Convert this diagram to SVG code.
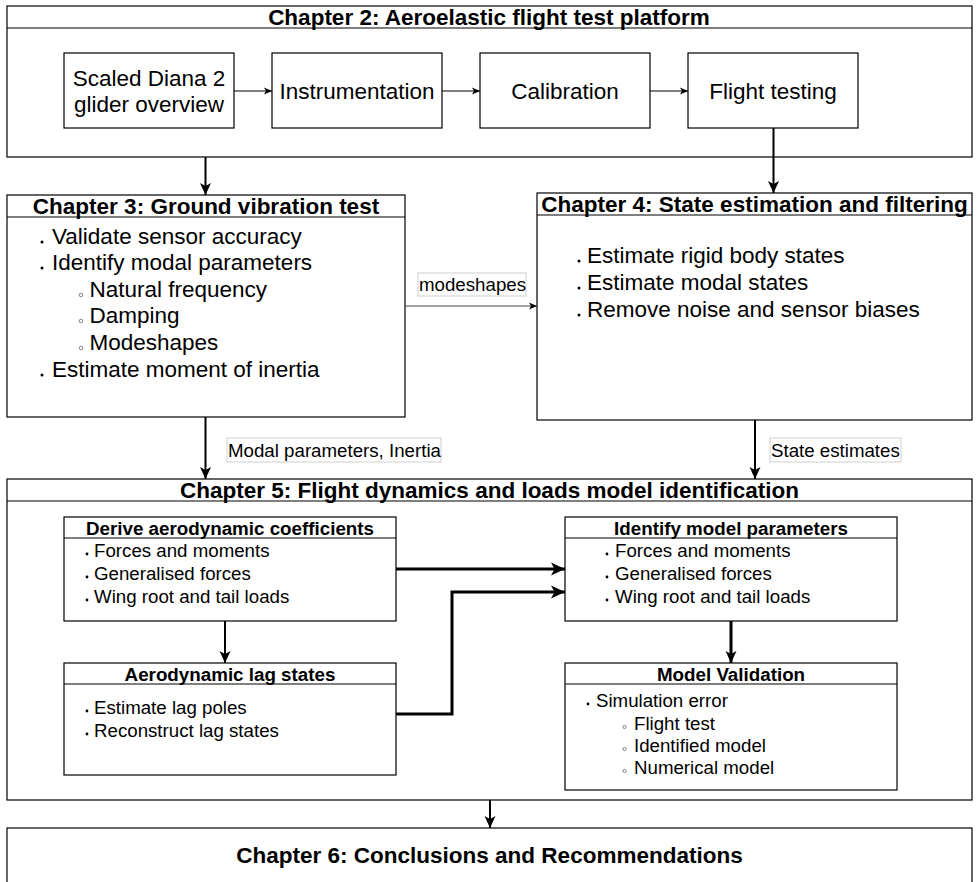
<svg xmlns="http://www.w3.org/2000/svg" width="977" height="882" viewBox="0 0 977 882">
<defs>
<style>
.box{fill:#fff;stroke:#000;stroke-width:1.2}
.hdr{stroke:#000;stroke-width:1.2;fill:none}
.lbl{fill:#fff;stroke:#d0d0d0;stroke-width:1}
text{font-family:"Liberation Sans",Arial,sans-serif;fill:#000}
.t1{font-size:22.5px;font-weight:bold}
.t2{font-size:22.5px}
.t3{font-size:18.8px;font-weight:bold}
.t4{font-size:18.7px}
.c{text-anchor:middle}
.dot{fill:#000}
.ring{fill:none;stroke:#555;stroke-width:0.7}
.thin{stroke:#000;stroke-width:1;fill:none}
.gray{stroke:#444;stroke-width:1;fill:none}
.med{stroke:#000;stroke-width:2;fill:none}
.thick{stroke:#000;stroke-width:3;fill:none}
</style>
<marker id="aS" markerUnits="userSpaceOnUse" markerWidth="9" markerHeight="8" refX="8" refY="4" orient="auto"><path d="M0,0.5 L8,4 L0,7.5 L2,4 Z" fill="#000"/></marker>
<marker id="aM" markerUnits="userSpaceOnUse" markerWidth="13" markerHeight="12" refX="12" refY="6" orient="auto"><path d="M0,0.5 L12,6 L0,11.5 L3,6 Z" fill="#000"/></marker>
<marker id="aL" markerUnits="userSpaceOnUse" markerWidth="15" markerHeight="14" refX="14" refY="7" orient="auto"><path d="M0,0.5 L14,7 L0,13.5 L3.5,7 Z" fill="#000"/></marker>
</defs>

<g id="ch2">
<rect class="box" x="7" y="6" width="965" height="151"/>
<line class="hdr" x1="7" y1="28" x2="972" y2="28"/>
<text class="t1 c" x="489" y="25">Chapter 2: Aeroelastic flight test platform</text>
</g>
<g id="diana">
<rect class="box" x="64" y="53" width="170" height="75"/>
<text class="t2 c" x="149" y="86">Scaled Diana 2</text>
<text class="t2 c" x="149" y="112">glider overview</text>
</g>
<g id="instr">
<rect class="box" x="272" y="53" width="170" height="75"/>
<text class="t2 c" x="357" y="99">Instrumentation</text>
</g>
<g id="calib">
<rect class="box" x="480" y="53" width="170" height="75"/>
<text class="t2 c" x="565" y="99">Calibration</text>
</g>
<g id="flight">
<rect class="box" x="688" y="53" width="170" height="75"/>
<text class="t2 c" x="773" y="99">Flight testing</text>
</g>

<g id="ch3">
<rect class="box" x="7" y="195" width="398" height="222"/>
<line class="hdr" x1="7" y1="217" x2="405" y2="217"/>
<text class="t1 c" x="206" y="214">Chapter 3: Ground vibration test</text>
<circle class="dot" cx="42" cy="242" r="1.5"/><text class="t2" x="52" y="244">Validate sensor accuracy</text>
<circle class="dot" cx="42" cy="268" r="1.5"/><text class="t2" x="52" y="270">Identify modal parameters</text>
<circle class="ring" cx="81" cy="295" r="1.8"/><text class="t2" x="89.5" y="297">Natural frequency</text>
<circle class="ring" cx="81" cy="321" r="1.8"/><text class="t2" x="89.5" y="323">Damping</text>
<circle class="ring" cx="81" cy="348" r="1.8"/><text class="t2" x="89.5" y="350">Modeshapes</text>
<circle class="dot" cx="42" cy="375" r="1.5"/><text class="t2" x="52" y="377">Estimate moment of inertia</text>
</g>

<g id="ch4">
<rect class="box" x="537" y="193" width="435" height="227"/>
<line class="hdr" x1="537" y1="215" x2="972" y2="215"/>
<text class="t1 c" x="754.5" y="212">Chapter 4: State estimation and filtering</text>
<circle class="dot" cx="579" cy="261" r="1.5"/><text class="t2" x="587" y="263">Estimate rigid body states</text>
<circle class="dot" cx="579" cy="288" r="1.5"/><text class="t2" x="587" y="290">Estimate modal states</text>
<circle class="dot" cx="579" cy="315" r="1.5"/><text class="t2" x="587" y="317">Remove noise and sensor biases</text>
</g>

<g id="ch5">
<rect class="box" x="7" y="479" width="965" height="321"/>
<line class="hdr" x1="7" y1="501" x2="972" y2="501"/>
<text class="t1 c" x="489.5" y="498">Chapter 5: Flight dynamics and loads model identification</text>
</g>
<g id="derive">
<rect class="box" x="64" y="517" width="332" height="104"/>
<line class="hdr" x1="64" y1="538" x2="396" y2="538"/>
<text class="t3 c" x="230" y="535">Derive aerodynamic coefficients</text>
<circle class="dot" cx="87" cy="554" r="1.4"/><text class="t4" x="94" y="557">Forces and moments</text>
<circle class="dot" cx="87" cy="577" r="1.4"/><text class="t4" x="94" y="580">Generalised forces</text>
<circle class="dot" cx="87" cy="600" r="1.4"/><text class="t4" x="94" y="603">Wing root and tail loads</text>
</g>
<g id="lag">
<rect class="box" x="64" y="663" width="332" height="112"/>
<line class="hdr" x1="64" y1="684" x2="396" y2="684"/>
<text class="t3 c" x="230" y="681">Aerodynamic lag states</text>
<circle class="dot" cx="87" cy="711" r="1.4"/><text class="t4" x="94" y="714">Estimate lag poles</text>
<circle class="dot" cx="87" cy="734" r="1.4"/><text class="t4" x="94" y="737">Reconstruct lag states</text>
</g>
<g id="identify">
<rect class="box" x="565" y="517" width="332" height="104"/>
<line class="hdr" x1="565" y1="538" x2="897" y2="538"/>
<text class="t3 c" x="731" y="535">Identify model parameters</text>
<circle class="dot" cx="607" cy="554" r="1.4"/><text class="t4" x="615" y="557">Forces and moments</text>
<circle class="dot" cx="607" cy="577" r="1.4"/><text class="t4" x="615" y="580">Generalised forces</text>
<circle class="dot" cx="607" cy="600" r="1.4"/><text class="t4" x="615" y="603">Wing root and tail loads</text>
</g>
<g id="validation">
<rect class="box" x="565" y="663" width="332" height="127"/>
<line class="hdr" x1="565" y1="684" x2="897" y2="684"/>
<text class="t3 c" x="731" y="681">Model Validation</text>
<circle class="dot" cx="588" cy="704" r="1.4"/><text class="t4" x="596" y="707">Simulation error</text>
<circle class="ring" cx="624.5" cy="727" r="1.6"/><text class="t4" x="634" y="730">Flight test</text>
<circle class="ring" cx="624.5" cy="749" r="1.6"/><text class="t4" x="634" y="752">Identified model</text>
<circle class="ring" cx="624.5" cy="771" r="1.6"/><text class="t4" x="634" y="774">Numerical model</text>
</g>

<g id="ch6">
<rect class="box" x="7" y="828" width="965" height="60"/>
<text class="t1 c" x="489.5" y="863">Chapter 6: Conclusions and Recommendations</text>
</g>

<g id="connectors">
<line class="thin" x1="234" y1="91" x2="272" y2="91" marker-end="url(#aS)"/>
<line class="thin" x1="442" y1="91" x2="480" y2="91" marker-end="url(#aS)"/>
<line class="thin" x1="650" y1="91" x2="688" y2="91" marker-end="url(#aS)"/>
<line class="med" x1="205.5" y1="157" x2="205.5" y2="195" marker-end="url(#aM)"/>
<line class="med" x1="773.5" y1="128" x2="773.5" y2="193" marker-end="url(#aM)"/>
<line class="gray" x1="405" y1="306" x2="537" y2="306" marker-end="url(#aS)"/>
<rect class="lbl" x="418" y="273" width="108" height="23"/>
<text class="t4" x="419" y="291">modeshapes</text>
<line class="med" x1="205.5" y1="417" x2="205.5" y2="479" marker-end="url(#aM)"/>
<rect class="lbl" x="227" y="438" width="214" height="24"/>
<text class="t4" x="228" y="457">Modal parameters, Inertia</text>
<line class="med" x1="755" y1="420" x2="755" y2="479" marker-end="url(#aM)"/>
<rect class="lbl" x="770" y="438" width="131" height="24"/>
<text class="t4" x="771" y="457">State estimates</text>
<line class="med" x1="225" y1="621" x2="225" y2="663" marker-end="url(#aM)"/>
<line class="thick" x1="396" y1="569" x2="565" y2="569" marker-end="url(#aL)"/>
<polyline class="thick" points="396,714 452,714 452,592 565,592" marker-end="url(#aL)"/>
<line class="thick" x1="731" y1="621" x2="731" y2="663" marker-end="url(#aM)"/>
<line class="med" x1="490" y1="800" x2="490" y2="828" marker-end="url(#aM)"/>
</g>
</svg>
